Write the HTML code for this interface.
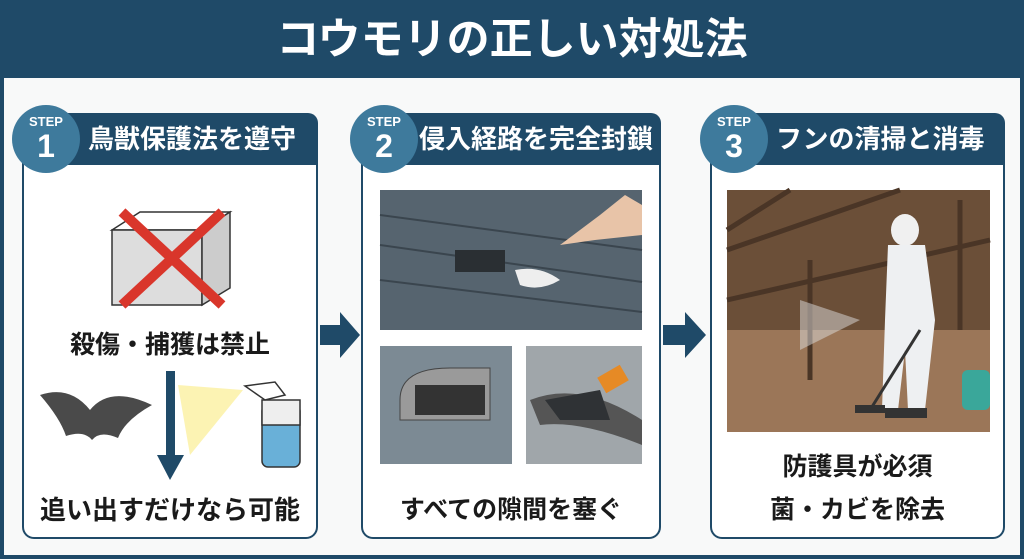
<!DOCTYPE html>
<html><head><meta charset="utf-8"><style>
*{margin:0;padding:0;box-sizing:border-box}
body{width:1024px;height:559px;position:relative;overflow:hidden;background:#1f4a68;font-family:"Liberation Sans","Noto Sans CJK JP",sans-serif}
.inner{position:absolute;left:4px;top:0;right:4px;bottom:4px;background:#f8f9f9}
.hdr{position:absolute;left:0;top:0;width:1024px;height:78px;background:#1f4a68;color:#fff;font-size:43px;font-weight:bold;text-align:center;line-height:80px;letter-spacing:0px}
.box{position:absolute;top:165px;height:374px;border:2.5px solid #1f4a68;border-top:none;border-radius:0 0 12px 12px;background:#fff}
.tab{position:absolute;top:113px;height:52px;background:#1f4a68;border-radius:10px 10px 0 0;color:#fff;font-size:26px;font-weight:bold;line-height:52px}
.circ{position:absolute;top:105px;width:68px;height:68px;border-radius:50%;background:#3e7a9c;color:#fff;text-align:center}
.circ .s{font-size:13px;font-weight:bold;margin-top:10px;line-height:14px}
.circ .n{font-size:32px;font-weight:bold;line-height:34px}
.t{position:absolute;font-size:25px;font-weight:bold;color:#1a1a1a;text-align:center;line-height:30px}
</style></head><body>
<div class="inner"></div>
<div class="hdr">コウモリの正しい対処法</div>

<div class="box" style="left:22px;width:296px"></div>
<div class="tab" style="left:22px;width:296px;padding-left:66px">鳥獣保護法を遵守</div>
<div class="circ" style="left:12px"><div class="s">STEP</div><div class="n">1</div></div>

<div class="box" style="left:361px;width:300px"></div>
<div class="tab" style="left:361px;width:300px;padding-left:58px">侵入経路を完全封鎖</div>
<div class="circ" style="left:350px"><div class="s">STEP</div><div class="n">2</div></div>

<div class="box" style="left:710px;width:295px"></div>
<div class="tab" style="left:710px;width:295px;padding-left:66px">フンの清掃と消毒</div>
<div class="circ" style="left:700px"><div class="s">STEP</div><div class="n">3</div></div>

<svg style="position:absolute;left:0;top:0" width="1024" height="559">
<polygon points="320,325 340,325 340,312 360,335 340,358 340,345 320,345" fill="#1f4a68"/>
<polygon points="663,325 685,325 685,312 706,335 685,358 685,345 663,345" fill="#1f4a68"/>
<g stroke="#333" stroke-width="1.5" fill="none">
<polygon points="112,230 140,212 230,212 202,230"/>
<rect x="112" y="230" width="90" height="75" fill="#ddd"/>
<polygon points="202,230 230,212 230,288 202,305" fill="#ccc"/>
</g>
<line x1="122" y1="212" x2="222" y2="305" stroke="#d9362b" stroke-width="10"/>
<line x1="222" y1="212" x2="122" y2="305" stroke="#d9362b" stroke-width="10"/>
<rect x="166" y="371" width="9" height="90" fill="#1f4a68"/>
<polygon points="157,455 184,455 170,480" fill="#1f4a68"/>
<polygon points="178,385 243,390 190,455" fill="#fbf0a0" opacity=".8"/>
<rect x="262" y="405" width="38" height="62" rx="6" fill="#69b0d8" stroke="#333" stroke-width="1.5"/>
<rect x="262" y="400" width="38" height="25" fill="#eee" stroke="#333" stroke-width="1.5"/>
<path d="M245,386 L275,382 L285,395 L265,400 Z" fill="#fff" stroke="#333" stroke-width="1.5"/>
<path d="M40,395 Q70,385 90,410 Q110,385 152,405 Q125,420 118,438 Q100,430 92,440 Q84,430 66,436 Q60,418 40,395Z" fill="#4a4a4a"/>
<rect x="380" y="190" width="262" height="140" fill="#56646f"/>
<g stroke="#3a454e" stroke-width="2">
<line x1="380" y1="215" x2="642" y2="250"/><line x1="380" y1="245" x2="642" y2="282"/><line x1="380" y1="280" x2="642" y2="312"/>
</g>
<rect x="455" y="250" width="50" height="22" fill="#2a2f33"/>
<path d="M515,270 Q540,265 560,280 Q540,292 520,285Z" fill="#eee"/>
<path d="M560,245 L600,215 L625,195 L642,205 L642,235 L595,240 Z" fill="#e8c4a8"/>
<rect x="380" y="346" width="132" height="118" fill="#7c8a94"/>
<path d="M400,400 Q400,368 450,368 L490,368 L490,420 L400,420Z" fill="#9a9a9a" stroke="#444"/>
<rect x="415" y="385" width="70" height="30" fill="#333"/>
<rect x="526" y="346" width="116" height="118" fill="#a0a6aa"/>
<path d="M530,400 Q580,380 642,420 L642,445 Q580,420 540,425Z" fill="#555"/>
<path d="M545,400 L600,390 L610,420 L560,420Z" fill="#2f3235"/>
<rect x="600" y="370" width="26" height="18" fill="#e68a25" transform="rotate(-30 613 379)"/>
<rect x="727" y="190" width="263" height="242" fill="#6b4f38"/>
<polygon points="727,330 990,330 990,432 727,432" fill="#9b7658"/>
<g stroke="#4a3526" stroke-width="5">
<line x1="727" y1="250" x2="900" y2="190"/><line x1="727" y1="300" x2="990" y2="240"/><line x1="790" y1="190" x2="727" y2="230"/>
<line x1="810" y1="260" x2="810" y2="380"/><line x1="960" y1="200" x2="960" y2="330"/>
</g>
<polygon points="860,320 800,300 800,350" fill="#ddd" opacity=".5"/>
<ellipse cx="905" cy="230" rx="14" ry="16" fill="#f0f0f0"/>
<path d="M888,245 L925,245 L935,320 L925,410 L908,410 L905,350 L898,410 L882,410 L885,320Z" fill="#eef0f2"/>
<rect x="885" y="408" width="22" height="10" fill="#333"/><rect x="905" y="408" width="22" height="10" fill="#333"/>
<rect x="962" y="370" width="28" height="40" rx="6" fill="#3aa79a"/>
<line x1="920" y1="330" x2="870" y2="410" stroke="#333" stroke-width="3"/>
<rect x="855" y="405" width="30" height="8" fill="#333"/>
</svg>

<div class="t" style="left:22px;width:296px;top:330px">殺傷・捕獲は禁止</div>
<div class="t" style="left:22px;width:296px;top:495px;font-size:26px">追い出すだけなら可能</div>
<div class="t" style="left:361px;width:300px;top:495px">すべての隙間を塞ぐ</div>
<div class="t" style="left:710px;width:295px;top:452px">防護具が必須</div>
<div class="t" style="left:710px;width:295px;top:495px">菌・カビを除去</div>
</body></html>
